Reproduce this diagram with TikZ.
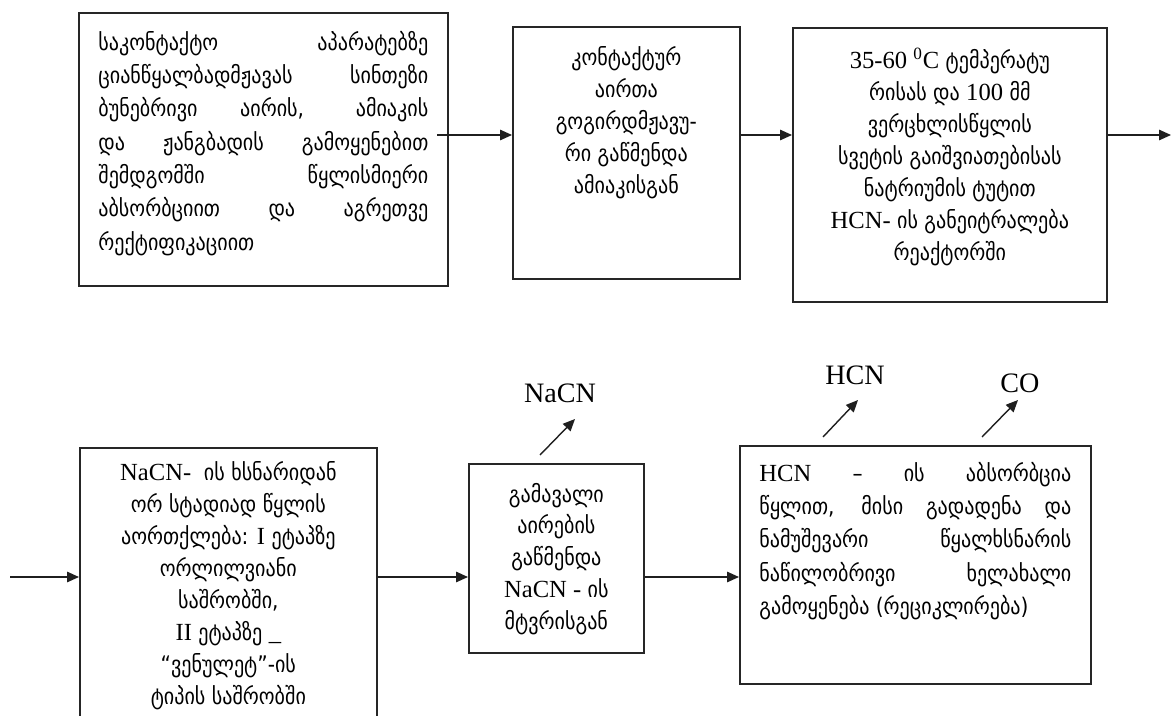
\documentclass[tikz,border=0pt]{standalone}
\usepackage{fontspec}
\setmainfont{Liberation Serif}
\newfontfamily\geofont{DejaVu Sans}[FakeStretch=0.88]
\usetikzlibrary{arrows.meta}
\definecolor{BoxEdge}{HTML}{262626}
\definecolor{FlowInk}{HTML}{1F1F1F}
\newcommand{\lat}[1]{{\rmfamily\fontsize{14}{19}\selectfont #1}}
\newcommand{\geotext}{\fontsize{13}{19}\geofont}
\newcommand{\geotight}{\fontsize{13}{18.2}\geofont}
\tikzset{
  box/.style={draw=BoxEdge,line width=1pt,anchor=north west,inner xsep=0.39cm,inner ysep=0.36cm,font=\geotext},
  flow/.style={FlowInk,line width=.8pt,-{Triangle[length=2.4mm,width=2.1mm]}},
  chem/.style={font=\fontsize{16}{19}\selectfont,inner sep=0pt}
}
\begin{document}
\begin{tikzpicture}[x=0.02cm,y=-0.02cm]
\useasboundingbox (0,0) rectangle (1172,716);
\clip (0,0) rectangle (1172,716);
% upper row
\node[box] (b1) at (78,12) {\parbox[t][4.74cm][t]{6.6cm}{საკონტაქტო აპარატებზე\linebreak ციანწყალბადმჟავას სინთეზი\linebreak ბუნებრივი აირის, ამიაკის\linebreak და ჟანგბადის გამოყენებით\linebreak შემდგომში წყლისმიერი\linebreak აბსორბციით და აგრეთვე\linebreak რექტიფიკაციით}};
\node[box,font=\geotight,inner xsep=0.32cm,inner ysep=0.4cm] (b2) at (512,26) {\parbox[t][4.24cm][t]{3.9cm}{\centering კონტაქტურ\\ აირთა\\ გოგირდმჟავუ-\\ რი გაწმენდა\\ ამიაკისგან}};
\node[box,font=\geotight,inner xsep=0.19cm,inner ysep=0.4cm] (b3) at (792,27) {\parbox[t][4.68cm][t]{5.9cm}{\centering \lat{35-60 \textsuperscript{0}C} ტემპერატუ\\ რისას და \lat{100} მმ\\ ვერცხლისწყლის\\ სვეტის გაიშვიათებისას\\ ნატრიუმის ტუტით\\ \lat{HCN-} ის განეიტრალება\\ რეაქტორში}};
\coordinate (r1) at (437,135);
\draw[flow] (r1) -- (r1 -| b2.west);
\draw[flow] (b2.east |- r1) -- (b3.west |- r1);
\coordinate (out1) at (1171,135);
\draw[flow] (b3.east |- r1) -- (out1);
% lower row
\node[box,font=\geotight,inner xsep=0.27cm,inner ysep=0.28cm] (b4) at (79,447) {\parbox[t][5.24cm][t]{5.4cm}{\centering \lat{NaCN-}\ \ ის ხსნარიდან\\ ორ სტადიად წყლის\\ აორთქლება: \lat{I} ეტაპზე\\ ორლილვიანი\\ საშრობში,\\ \lat{II} ეტაპზე \lat{\_}\\ “ვენულეტ”-ის\\ ტიპის საშრობში}};
\node[box,font=\geotight,inner xsep=0.25cm,inner ysep=0.38cm] (b5) at (468,463) {\parbox[t][3.02cm][t]{3.0cm}{\centering გამავალი\\ აირების\\ გაწმენდა\\ \lat{NaCN -} ის\\ მტვრისგან}};
\node[box,inner ysep=0.32cm] (b6) at (739,445) {\parbox[t][4.12cm][t]{6.24cm}{\lat{HCN} – ის აბსორბცია\linebreak წყლით, მისი გადადენა და\linebreak ნამუშევარი წყალხსნარის\linebreak ნაწილობრივი ხელახალი\linebreak გამოყენება (რეციკლირება)}};
\coordinate (in4) at (10,577);
\draw[flow] (in4) -- (in4 -| b4.west);
\draw[flow] (b4.east |- in4) -- (b5.west |- in4);
\draw[flow] (b5.east |- in4) -- (b6.west |- in4);
% released gases
\node[chem] (nacn) at (560,393) {NaCN};
\node[chem] (hcn) at (855,375) {HCN};
\node[chem] (co) at (1020,383) {CO};
\coordinate (n0) at (540,455);
\coordinate (n1) at (575,419);
\draw[flow] (n0) -- (n1);
\coordinate (h0) at (823,437);
\coordinate (h1) at (858,400);
\draw[flow] (h0) -- (h1);
\coordinate (c0) at (982,437);
\coordinate (c1) at (1018,400);
\draw[flow] (c0) -- (c1);
\end{tikzpicture}
\end{document}
